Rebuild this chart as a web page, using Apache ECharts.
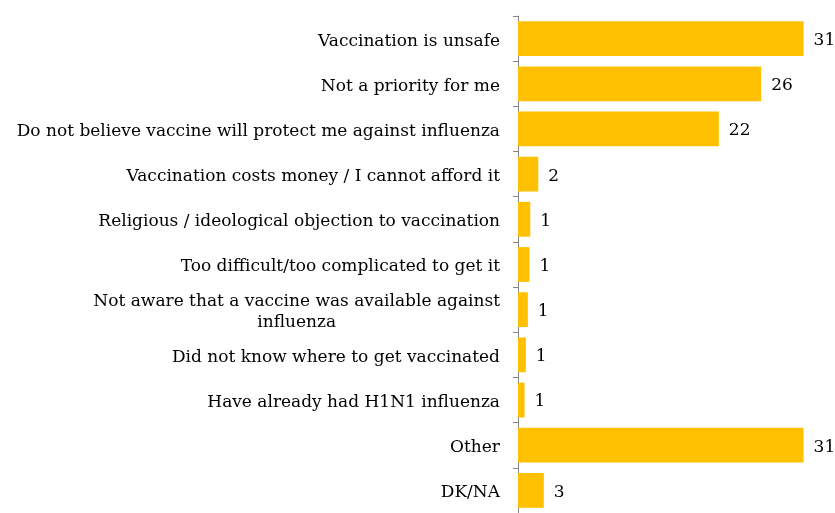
<!DOCTYPE html>
<html>
<head>
<meta charset="utf-8">
<script src="https://cdn.jsdelivr.net/npm/echarts@6/dist/echarts.min.js"></script>
<style>html,body{margin:0;padding:0;background:#fff;}#c{width:835px;height:513px;}</style>
</head>
<body>
<div id="c"></div>
<script>
const categories = [
  "Vaccination is unsafe",
  "Not a priority for me",
  "Do not believe vaccine will protect me against influenza",
  "Vaccination costs money / I cannot afford it",
  "Religious / ideological objection to vaccination",
  "Too difficult/too complicated to get it",
  "Not aware that a vaccine was available against\ninfluenza",
  "Did not know where to get vaccinated",
  "Have already had H1N1 influenza",
  "Other",
  "DK/NA"
];
const values = [31, 26.4, 21.8, 2.2, 1.33, 1.25, 1.07, 0.85, 0.71, 31, 2.8];

const FONT = '"DejaVu Serif", Georgia, serif';
const FS = 17;
const ctx = document.createElement('canvas').getContext('2d');
ctx.font = FS + 'px ' + FONT;
function wrapWidth(s) {
  return Math.max.apply(null, s.split('\n').map(l => ctx.measureText(l).width));
}

const chart = echarts.init(document.getElementById('c'), null, {renderer: 'canvas'});
chart.setOption({
  animation: false,
  grid: {left: 518, top: 16, height: 500, right: 13},
  xAxis: {
    type: 'value', min: 0, max: 33,
    show: false
  },
  yAxis: {
    type: 'category', data: categories, inverse: true,
    axisLine: {show: true, lineStyle: {color: '#868686', width: 1}},
    axisTick: {show: true, length: 5, lineStyle: {color: '#868686'}},
    axisLabel: {
      margin: 18, color: '#000', fontFamily: FONT, fontSize: FS, lineHeight: 21,
      padding: [5, 0, 0, 0],
      formatter: function (v) {
        if (v.indexOf('\n') >= 0) {
          return v.split('\n').map(l => '{w|' + l + '}').join('\n');
        }
        return v;
      },
      rich: {
        w: {width: wrapWidth(categories[6]), align: 'center', fontFamily: FONT, fontSize: FS, color: '#000', lineHeight: 21}
      }
    }
  },
  series: [{
    type: 'bar', data: values, barCategoryGap: '23%',
    itemStyle: {color: '#FFC000'},
    label: {
      show: true, position: 'right', distance: 10, offset: [0, 2],
      color: '#000', fontFamily: FONT, fontSize: FS,
      formatter: p => Math.round(p.value)
    }
  }]
});
</script>
</body>
</html>
